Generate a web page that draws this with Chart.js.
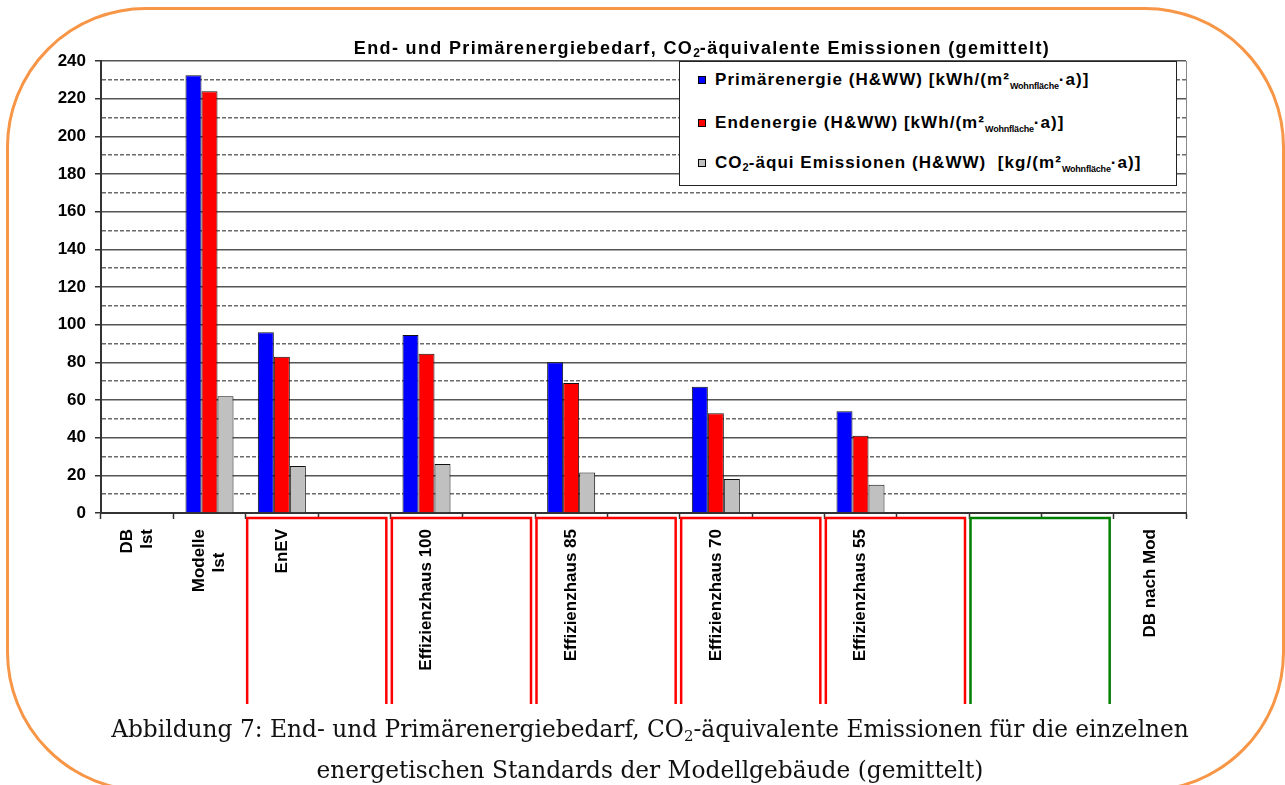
<!DOCTYPE html>
<html lang="de">
<head>
<meta charset="utf-8">
<title>End- und Primärenergiebedarf, CO2-äquivalente Emissionen</title>
<script src="https://cdn.jsdelivr.net/npm/chart.js@4.4.1/dist/chart.umd.min.js"></script>
<style>
  html, body { margin: 0; padding: 0; background: #fff; overflow: hidden; }
  #page { position: relative; width: 1285px; height: 785px; overflow: hidden; }
  #chartBox { position: absolute; left: 0; top: 0; width: 1285px; height: 785px; }
  #frame {
    position: absolute; left: 6px; top: 7px; width: 1279px; height: 785px;
    box-sizing: border-box; border: 3px solid #F79646; border-radius: 140px;
    pointer-events: none;
  }
  #title {
    position: absolute; left: 302px; top: 38px; width: 800px; text-align: center;
    font: bold 18px "Liberation Sans", Arial, sans-serif; line-height: 20px;
    letter-spacing: 1.35px; white-space: nowrap; color: #000;
  }
  #title sub, #legend sub { line-height: 0; }
  #title sub { font-size: 12px; vertical-align: -3px; letter-spacing: 0; }
  #legend {
    position: absolute; left: 679px; top: 61px; width: 498px; height: 125px;
    box-sizing: border-box; border: 1.5px solid #222; background: #fff;
  }
  .row {
    position: absolute; left: 18px; height: 20px; line-height: 20px;
    display: flex; align-items: center; white-space: nowrap;
    font: bold 17px "Liberation Sans", Arial, sans-serif; letter-spacing: 1.05px; color: #000;
  }
  .mark { width: 8px; height: 8px; box-sizing: border-box; border: 1px solid #000; margin-right: 9px; }
  .row sub.u { font-size: 9px; vertical-align: -4px; letter-spacing: -0.2px; }
  .row sub.n { font-size: 11px; vertical-align: -3px; letter-spacing: 0; }
  #caption {
    position: absolute; left: 0; top: 708px; width: 1300px; text-align: center;
    font: 23.3px "DejaVu Serif", "Liberation Serif", serif; line-height: 41px; color: #111;
    white-space: nowrap;
  }
  #caption sub { font-size: 15px; vertical-align: -4px; line-height: 0; }
</style>
</head>
<body>
<div id="page">
  <div id="chartBox"><canvas id="chart"></canvas></div>
  <div id="title">End- und Primärenergiebedarf, CO<sub>2</sub>-äquivalente Emissionen (gemittelt)</div>
  <div id="legend"></div>
  <div id="caption">Abbildung 7: End- und Primärenergiebedarf, CO<sub>2</sub>-äquivalente Emissionen für die einzelnen<br>energetischen Standards der Modellgebäude (gemittelt)</div>
  <div id="frame"></div>
</div>
<script>
// categories (two-line labels as arrays)
const categories = [
  ['DB', 'Ist'], ['Modelle', 'Ist     '], 'EnEV', '', 'Effizienzhaus 100', '',
  'Effizienzhaus 85', '', 'Effizienzhaus 70', '', 'Effizienzhaus 55', '', '', '', 'DB nach Mod'
];

// values
const primaerenergie = [null, 232.5, 96, null, 94.5, null, 80, null, 67, null, 54, null, null, null, null];
const endenergie     = [null, 224, 83, null, 84.5, null, 69, null, 53, null, 41, null, null, null, null];
const co2Emissionen  = [null, 62, 25, null, 26, null, 21.5, null, 18, null, 15, null, null, null, null];

const seriesNames = [
  'Primärenergie (H&WW) [kWh/(m²Wohnfläche·a)]',
  'Endenergie (H&WW) [kWh/(m²Wohnfläche·a)]',
  'CO2-äqui Emissionen (H&WW) [kg/(m²Wohnfläche·a)]'
];
const legendHtml = [
  'Primärenergie (H&amp;WW) [kWh/(m²<sub class="u">Wohnfläche</sub>·a)]',
  'Endenergie (H&amp;WW) [kWh/(m²<sub class="u">Wohnfläche</sub>·a)]',
  'CO<sub class="n">2</sub>-äqui Emissionen (H&amp;WW)&nbsp; [kg/(m²<sub class="u">Wohnfläche</sub>·a)]'
];
const seriesColors = ['#0000FF', '#FF0000', '#C0C0C0'];

// y axis: labels every 20, dashed helper lines every 10
const yMin = 0, yMax = 240, yStep = 10, yLabelStep = 20;

// boxes under the axis: first category of each two-category group
const redGroups = [2, 4, 6, 8, 10];
const greenGroups = [12];

const isMajor = ctx => ctx.tick && ctx.tick.value % yLabelStep === 0;

// center two-line rotated labels around their tick
const centerMultiLine = {
  id: 'centerMultiLine',
  beforeDraw(chart) {
    chart.scales.x.getLabelItems().forEach(item => {
      if (Array.isArray(item.label) && !item.centred) {
        item.textOffset -= (item.label.length - 1) * item.font.lineHeight / 2;
        item.centred = true;
      }
    });
  }
};

// red / green frames below the category axis
const standardBoxes = {
  id: 'standardBoxes',
  afterDraw(chart) {
    const x = chart.scales.x;
    const step = x.getPixelForValue(1) - x.getPixelForValue(0);
    const edge = i => x.getPixelForValue(i) - step / 2;
    const top = chart.chartArea.bottom + 5;
    const bottom = 704;
    const ctx = chart.ctx;
    const draw = (starts, color) => {
      ctx.strokeStyle = color;
      starts.forEach(s => {
        const l = edge(s) + 1.5, r = edge(s + 2) - 4;
        ctx.beginPath();
        ctx.moveTo(l, bottom);
        ctx.lineTo(l, top);
        ctx.lineTo(r, top);
        ctx.lineTo(r, bottom);
        ctx.stroke();
      });
    };
    ctx.save();
    ctx.lineWidth = 2.5;
    draw(redGroups, '#FF0000');
    draw(greenGroups, '#008000');
    ctx.restore();
  }
};

Chart.defaults.font.family = '"Liberation Sans", Arial, sans-serif';
Chart.defaults.color = '#000';

const chart = new Chart(document.getElementById('chart'), {
  type: 'bar',
  data: {
    labels: categories,
    datasets: [primaerenergie, endenergie, co2Emissionen].map((d, i) => ({
      label: seriesNames[i],
      data: d,
      backgroundColor: seriesColors[i],
      borderColor: '#111',
      borderWidth: 1,
      categoryPercentage: 0.664,
      barPercentage: 1
    }))
  },
  options: {
    responsive: true,
    maintainAspectRatio: false,
    animation: false,
    layout: { padding: { left: 41, right: 99, top: 61, bottom: 82 } },
    plugins: {
      legend: { display: false },
      title: { display: false },
      tooltip: { enabled: false }
    },
    scales: {
      x: {
        offset: true,
        afterFit: s => { s.height = 190; },
        ticks: {
          autoSkip: false, minRotation: 90, maxRotation: 90, padding: 10,
          font: { size: 17, weight: 'bold' }, color: '#000'
        },
        grid: {
          offset: true,
          color: ctx => ctx.type === 'tick' ? 'rgba(0,0,0,0)' : '#888',
          lineWidth: 1,
          tickColor: '#333',
          tickLength: 6,
          tickWidth: 1.5
        },
        border: { color: '#333', width: 2 }
      },
      y: {
        min: yMin,
        max: yMax,
        afterFit: s => { s.width = 60; },
        ticks: {
          stepSize: yStep, autoSkip: false, padding: 9,
          font: { size: 17, weight: 'bold' }, color: '#000',
          callback: v => v % yLabelStep === 0 ? v : ''
        },
        grid: {
          color: ctx => isMajor(ctx) ? '#555' : '#6a6a6a',
          lineWidth: 1.5,
          tickLength: 6,
          tickWidth: 1.5,
          tickColor: ctx => isMajor(ctx) ? '#333' : 'rgba(0,0,0,0)'
        },
        border: {
          color: '#333', width: 2,
          dash: ctx => (ctx.tick && !isMajor(ctx)) ? [4, 2] : []
        }
      }
    }
  },
  plugins: [centerMultiLine, standardBoxes]
});

// HTML legend built from the datasets (keeps sub/superscripts as real text)
const legend = document.getElementById('legend');
const rowCenters = [18, 61, 101];
chart.data.datasets.forEach((ds, i) => {
  const row = document.createElement('div');
  row.className = 'row';
  row.style.top = (rowCenters[i] - 10) + 'px';
  row.innerHTML = '<span class="mark" style="background:' + ds.backgroundColor + '"></span><span>' + legendHtml[i] + '</span>';
  legend.appendChild(row);
});
</script>
</body>
</html>
